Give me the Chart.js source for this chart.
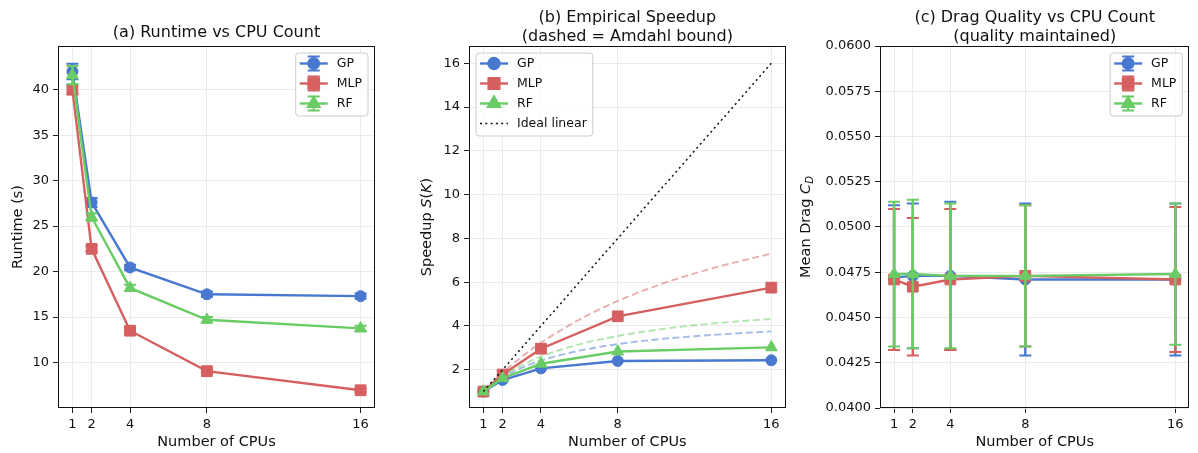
<!DOCTYPE html>
<html>
<head>
<meta charset="utf-8">
<script src="https://cdn.jsdelivr.net/npm/chart.js@4.4.1/dist/chart.umd.min.js"></script>
<style>
  html, body { margin: 0; padding: 0; background: #fff; }
  #fig { position: relative; width: 1198px; height: 453px; }
  canvas { position: absolute; top: 0; }
</style>
</head>
<body>
<div id="fig">
  <canvas id="cA" width="395" height="453" style="left:0px"></canvas>
  <canvas id="cB" width="400" height="453" style="left:395px"></canvas>
  <canvas id="cC" width="403" height="453" style="left:795px"></canvas>
</div>
<script>
// ---- data ----
const cpus = [1, 2, 4, 8, 16];
const xTicks = [1, 2, 4, 8, 16];

// (a) runtime in seconds, +/- error
const gpRuntime = [42.0, 27.6, 20.45, 17.5, 17.3];
const gpRuntimeErr = [0.85, 0.5, 0.3, 0.3, 0.3];
const mlpRuntime = [40.0, 22.5, 13.5, 9.05, 6.95];
const mlpRuntimeErr = [0.5, 0.3, 0.2, 0.2, 0.2];
const rfRuntime = [41.6, 26.0, 18.2, 14.7, 13.75];
const rfRuntimeErr = [1.0, 0.4, 0.35, 0.3, 0.3];
const runtimeTicks = [10, 15, 20, 25, 30, 35, 40];

// (b) speedup
const gpSpeedup = [1.0, 1.53, 2.06, 2.40, 2.43];
const mlpSpeedup = [1.0, 1.78, 2.96, 4.44, 5.75];
const rfSpeedup = [1.0, 1.61, 2.27, 2.83, 3.02];
const amdahlX = [1, 2, 3, 4, 6, 8, 10, 12, 14, 16];
const gpAmdahl = [1.0, 1.64, 2.09, 2.42, 2.87, 3.17, 3.38, 3.53, 3.65, 3.75];
const mlpAmdahl = [1.0, 1.85, 2.59, 3.23, 4.29, 5.14, 5.83, 6.40, 6.88, 7.30];
const rfAmdahl = [1.0, 1.70, 2.21, 2.60, 3.16, 3.54, 3.82, 4.03, 4.19, 4.32];
const idealX = [1, 16];
const idealY = [1, 16];
const speedupTicks = [2, 4, 6, 8, 10, 12, 14, 16];

// (c) mean drag coefficient, +/- error
const gpDrag = [0.0472, 0.0473, 0.0473, 0.0471, 0.0471];
const gpDragErr = [0.0040, 0.0040, 0.0041, 0.0042, 0.0042];
const mlpDrag = [0.0471, 0.0467, 0.0471, 0.0473, 0.0471];
const mlpDragErr = [0.0039, 0.0038, 0.0039, 0.0039, 0.0040];
const rfDrag = [0.0474, 0.0474, 0.0473, 0.0473, 0.0474];
const rfDragErr = [0.0040, 0.0041, 0.0040, 0.0039, 0.0039];
const dragTicks = [0.04, 0.0425, 0.045, 0.0475, 0.05, 0.0525, 0.055, 0.0575, 0.06];

// ---- styling ----
const BLUE = '#4878d0', RED = '#d65f5f', GREEN = '#6acc64';
const FONT = "'DejaVu Sans', 'Liberation Sans', sans-serif";
const TXT = '#111';
const GRID = '#e6e6e6';
const R_CIRCLE = 5.5, R_RECT = 7.6, R_TRI = 6.8;
Chart.defaults.font.family = FONT;
Chart.defaults.color = TXT;

const pts = (xs, ys) => xs.map((x, i) => ({ x: x, y: ys[i] }));

function series(label, color, style, r, xs, ys, order, err) {
  return {
    label: label, data: pts(xs, ys), err: err,
    borderColor: color, backgroundColor: color,
    pointBackgroundColor: color, pointBorderColor: color,
    pointStyle: style, pointRadius: r, pointBorderWidth: 1,
    borderWidth: 2.4, tension: 0, order: order
  };
}
function dashed(color, xs, ys, order) {
  return {
    data: pts(xs, ys), borderColor: color, borderWidth: 1.9,
    borderDash: [7, 3.5], pointRadius: 0, cubicInterpolationMode: 'monotone',
    order: order
  };
}

function xScale() {
  return {
    type: 'linear', min: 0.25, max: 16.75,
    afterBuildTicks: s => { s.ticks = xTicks.map(v => ({ value: v })); },
    afterFit: s => { s.height = 45; },
    ticks: { font: { size: 13 }, color: TXT, padding: 4, maxRotation: 0, autoSkip: false },
    grid: { color: GRID, lineWidth: 0.8, tickLength: 5, tickColor: '#222', tickWidth: 1 },
    border: { display: false },
    title: { display: true, text: 'Number of CPUs', font: { size: 14.5 }, color: TXT,
             padding: { top: 0, bottom: 2.5 } }
  };
}
function yScale(min, max, ticks, width, fmt) {
  return {
    type: 'linear', min: min, max: max,
    afterBuildTicks: s => { s.ticks = ticks.map(v => ({ value: v })); },
    afterFit: s => { s.width = width; },
    ticks: { font: { size: 13 }, color: TXT, padding: 4, callback: fmt },
    grid: { color: GRID, lineWidth: 0.8, tickLength: 5, tickColor: '#222', tickWidth: 1 },
    border: { display: false }
  };
}
function titleOpts(text, top, bottom) {
  return { display: true, text: text, fullSize: false, color: TXT,
           font: { size: 16, weight: 'normal', lineHeight: 1.15 },
           padding: { top: top, bottom: bottom } };
}

// error bars drawn just before each dataset, using its own scales
const errorBars = {
  id: 'errorBars',
  beforeDatasetDraw(chart, args) {
    const ds = chart.data.datasets[args.index];
    if (!ds.err) return;
    const ctx = chart.ctx, y = chart.scales.y;
    ctx.save();
    ctx.strokeStyle = ds.borderColor;
    args.meta.data.forEach((p, i) => {
      const v = ds.data[i].y, e = ds.err[i];
      const top = y.getPixelForValue(v + e), bot = y.getPixelForValue(v - e);
      ctx.lineWidth = 2.4;
      ctx.beginPath(); ctx.moveTo(p.x, top); ctx.lineTo(p.x, bot); ctx.stroke();
      ctx.lineWidth = 2;
      ctx.beginPath();
      ctx.moveTo(p.x - 6, top); ctx.lineTo(p.x + 6, top);
      ctx.moveTo(p.x - 6, bot); ctx.lineTo(p.x + 6, bot);
      ctx.stroke();
    });
    ctx.restore();
  }
};

// black frame round the plot area (all four spines)
const frame = {
  id: 'frame',
  afterDatasetsDraw(chart) {
    const a = chart.chartArea, ctx = chart.ctx;
    ctx.save();
    ctx.strokeStyle = '#111';
    ctx.lineWidth = 1;
    ctx.strokeRect(Math.round(a.left) + 0.5, Math.round(a.top) + 0.5,
                   Math.round(a.right - a.left) - 1, Math.round(a.bottom - a.top) - 1);
    ctx.restore();
  }
};

// y axis label with italic / subscript parts
function yLabel(x, parts) {
  return {
    id: 'yLabel',
    afterDraw(chart) {
      const ctx = chart.ctx, a = chart.chartArea, size = 14.5;
      ctx.save();
      ctx.translate(x, (a.top + a.bottom) / 2);
      ctx.rotate(-Math.PI / 2);
      ctx.fillStyle = TXT;
      ctx.textBaseline = 'middle';
      const pieces = parts.map(p => {
        const fs = p.sub ? size * 0.7 : size;
        const font = (p.italic ? 'italic ' : '') + fs + 'px ' + FONT;
        ctx.font = font;
        return { t: p.t, sub: p.sub, font: font, w: ctx.measureText(p.t).width };
      });
      let cx = -pieces.reduce((s, p) => s + p.w, 0) / 2;
      pieces.forEach(p => {
        ctx.font = p.font;
        ctx.fillText(p.t, cx, p.sub ? size * 0.3 : 0);
        cx += p.w;
      });
      ctx.restore();
    }
  };
}

// matplotlib-like legend box inside the axes
function boxLegend(items, corner) {
  return {
    id: 'boxLegend',
    afterDraw(chart) {
      const ctx = chart.ctx, a = chart.chartArea;
      ctx.save();
      ctx.font = '12.5px ' + FONT;
      const tw = Math.max(...items.map(it => ctx.measureText(it.label).width));
      const w = 41 + tw + 6, h = items.length * 20 + 3;
      const bx = corner === 'right' ? a.right - 7 - w : a.left + 7;
      const by = a.top + 7;
      ctx.beginPath();
      ctx.roundRect(bx, by, w, h, 3);
      ctx.fillStyle = 'rgba(255,255,255,0.8)';
      ctx.fill();
      ctx.strokeStyle = '#cccccc';
      ctx.lineWidth = 1;
      ctx.stroke();
      items.forEach((it, i) => {
        const cy = by + 10.5 + i * 20;
        const x0 = bx + 4, x1 = bx + 32, xm = (x0 + x1) / 2;
        ctx.strokeStyle = it.color;
        ctx.fillStyle = it.color;
        ctx.lineWidth = it.lw || 2.4;
        ctx.setLineDash(it.dash || []);
        ctx.beginPath(); ctx.moveTo(x0, cy); ctx.lineTo(x1, cy); ctx.stroke();
        ctx.setLineDash([]);
        if (it.err) {
          ctx.lineWidth = 2;
          ctx.beginPath();
          ctx.moveTo(xm, cy - 7); ctx.lineTo(xm, cy + 7);
          ctx.moveTo(xm - 6, cy - 7); ctx.lineTo(xm + 6, cy - 7);
          ctx.moveTo(xm - 6, cy + 7); ctx.lineTo(xm + 6, cy + 7);
          ctx.stroke();
        }
        if (it.style) {
          Chart.helpers.drawPoint(ctx, { pointStyle: it.style, radius: it.r, borderWidth: 1, rotation: 0 }, xm, cy);
        }
        ctx.fillStyle = TXT;
        ctx.textBaseline = 'middle';
        ctx.font = '12.5px ' + FONT;
        ctx.fillText(it.label, bx + 41, cy);
      });
      ctx.restore();
    }
  };
}

const modelLegend = (err) => [
  { label: 'GP', color: BLUE, style: 'circle', r: R_CIRCLE, err: err },
  { label: 'MLP', color: RED, style: 'rect', r: R_RECT, err: err },
  { label: 'RF', color: GREEN, style: 'triangle', r: R_TRI, err: err }
];

const common = {
  responsive: false, animation: false, events: [],
  plugins: { legend: { display: false }, tooltip: { enabled: false } }
};

// (a) runtime
new Chart(document.getElementById('cA'), {
  type: 'line',
  data: { datasets: [
    series('GP', BLUE, 'circle', R_CIRCLE, cpus, gpRuntime, 3, gpRuntimeErr),
    series('MLP', RED, 'rect', R_RECT, cpus, mlpRuntime, 2, mlpRuntimeErr),
    series('RF', GREEN, 'triangle', R_TRI, cpus, rfRuntime, 1, rfRuntimeErr)
  ] },
  options: Object.assign({}, common, {
    layout: { padding: { left: 0, right: 20, top: 0, bottom: 0 } },
    scales: { x: xScale(), y: yScale(5.0, 44.8, runtimeTicks, 58, v => String(v)) },
    plugins: Object.assign({}, common.plugins, { title: titleOpts('(a) Runtime vs CPU Count', 24.1, 3.5) })
  }),
  plugins: [errorBars, frame, yLabel(18.5, [{ t: 'Runtime (s)' }]), boxLegend(modelLegend(true), 'right')]
});

// (b) speedup
new Chart(document.getElementById('cB'), {
  type: 'line',
  data: { datasets: [
    series('GP', BLUE, 'circle', R_CIRCLE, cpus, gpSpeedup, 7),
    dashed('rgba(72,120,208,0.5)', amdahlX, gpAmdahl, 6),
    series('MLP', RED, 'rect', R_RECT, cpus, mlpSpeedup, 5),
    dashed('rgba(214,95,95,0.5)', amdahlX, mlpAmdahl, 4),
    series('RF', GREEN, 'triangle', R_TRI, cpus, rfSpeedup, 3),
    dashed('rgba(106,204,100,0.5)', amdahlX, rfAmdahl, 2),
    { label: 'Ideal linear', data: pts(idealX, idealY), borderColor: '#111', borderWidth: 1.5,
      borderDash: [2, 3.3], pointRadius: 0, order: 1 }
  ] },
  options: Object.assign({}, common, {
    layout: { padding: { left: 0, right: 9.3, top: 0, bottom: 0 } },
    scales: { x: xScale(), y: yScale(0.25, 16.79, speedupTicks, 74, v => String(v)) },
    plugins: Object.assign({}, common.plugins, {
      title: titleOpts(['(b) Empirical Speedup', '(dashed = Amdahl bound)'], 9.1, 0.1) })
  }),
  plugins: [frame,
    yLabel(32.5, [{ t: 'Speedup ' }, { t: 'S', italic: true }, { t: '(' }, { t: 'K', italic: true }, { t: ')' }]),
    boxLegend(modelLegend(false).concat([{ label: 'Ideal linear', color: '#111', lw: 1.5, dash: [2, 3.3] }]), 'left')]
});

// (c) drag quality
new Chart(document.getElementById('cC'), {
  type: 'line',
  data: { datasets: [
    series('GP', BLUE, 'circle', R_CIRCLE, cpus, gpDrag, 3, gpDragErr),
    series('MLP', RED, 'rect', R_RECT, cpus, mlpDrag, 2, mlpDragErr),
    series('RF', GREEN, 'triangle', R_TRI, cpus, rfDrag, 1, rfDragErr)
  ] },
  options: Object.assign({}, common, {
    layout: { padding: { left: 0, right: 2, top: 0, bottom: 0 } },
    scales: { x: xScale(), y: yScale(0.04, 0.06, dragTicks, 85, v => v.toFixed(4)) },
    plugins: Object.assign({}, common.plugins, {
      title: titleOpts(['(c) Drag Quality vs CPU Count', '(quality maintained)'], 9.1, 0.1) })
  }),
  plugins: [errorBars, frame,
    yLabel(11, [{ t: 'Mean Drag ' }, { t: 'C', italic: true }, { t: 'D', italic: true, sub: true }]),
    boxLegend(modelLegend(true), 'right')]
});
</script>
</body>
</html>
